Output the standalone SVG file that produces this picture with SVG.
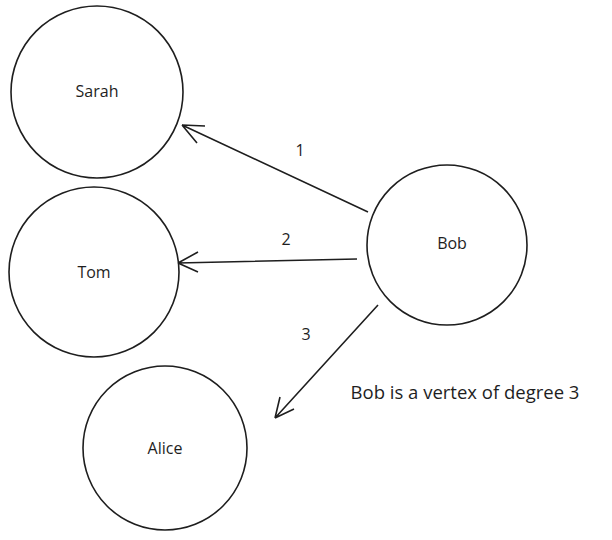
<svg xmlns="http://www.w3.org/2000/svg" width="612" height="540" viewBox="0 0 612 540">
<style>
.n{fill:none;stroke:#1e1e1e;stroke-width:1.6}
.t{font-family:"Open Sans","Liberation Sans",sans-serif;font-size:16px;fill:#1e1e1e;text-anchor:middle}
.c{stroke:#1e1e1e;stroke-width:1.6;fill:none}
</style>
<rect width="612" height="540" fill="#fff"/>
<g id="sarah"><circle class="n" cx="97" cy="92" r="86"/><text class="t" x="97" y="97">Sarah</text></g>
<g id="tom"><circle class="n" cx="94" cy="272" r="85"/><text class="t" x="94" y="278">Tom</text></g>
<g id="alice"><circle class="n" cx="165" cy="448" r="82"/><text class="t" x="165" y="454">Alice</text></g>
<g id="bob"><circle class="n" cx="447" cy="245" r="80"/><text class="t" x="452" y="249">Bob</text></g>
<g id="connectors">
<path class="c" d="M368,212 L182,125 M182,125 L205,126 M182,125 L197,143"/>
<path class="c" d="M357,259 L178,263 M178,263 L198,252 M178,263 L198,272"/>
<path class="c" d="M378,305 L275,418 M275,418 L280,397 M275,418 L294,409"/>
<text class="t" x="300" y="156">1</text>
<text class="t" x="286" y="245">2</text>
<text class="t" x="306" y="340">3</text>
</g>
<text class="t" x="465" y="399" style="font-size:18.5px">Bob is a vertex of degree 3</text>
</svg>
